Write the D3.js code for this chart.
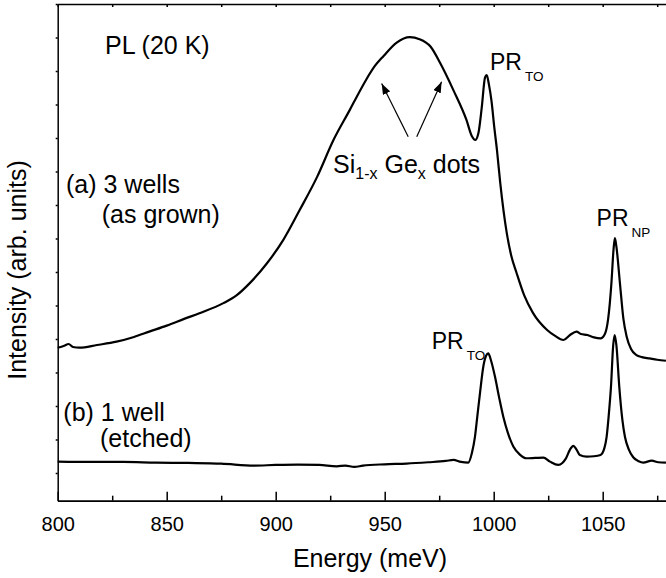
<!DOCTYPE html>
<html>
<head>
<meta charset="utf-8">
<script src="https://cdn.jsdelivr.net/npm/d3@7/dist/d3.min.js"></script>
<style>
  body { margin: 0; background: #fff; }
  svg { display: block; font-family: "Liberation Sans", Arial, Helvetica, sans-serif; }
  .axis path, .axis line { stroke: #000; stroke-width: 1.5; fill: none; }
  .axis text { font-size: 20px; fill: #000; }
  .curve { fill: none; stroke: #000; stroke-width: 2.2; stroke-linejoin: round; }
  .label { font-size: 25px; fill: #000; }
</style>
</head>
<body>
<div id="chart"></div>
<script>
// x ticks (meV)
var xMajorTicks = [800, 850, 900, 950, 1000, 1050];
var xMinorTicks = [825, 875, 925, 975, 1025, 1075];
var yTicks = [0, 1, 2, 3, 4, 5, 6, 7, 8, 9, 10, 11, 12, 13, 14];

// (a) 3 wells, as grown
var energyA = [800, 803, 805, 807, 810, 818, 827, 835, 842, 850, 858, 865, 876, 882, 888,
    896, 903.5, 911, 919, 926.5, 934, 938, 941.5, 945.5, 949.5, 955.5, 961.5, 966, 971, 975.5,
    981.5, 987.5, 990, 991.5, 993, 994.5, 996, 996.8, 997.8, 999, 1000.3, 1001.5, 1003,
    1006, 1008, 1010.5, 1014, 1018, 1024.5, 1028, 1032, 1035, 1038, 1040, 1043, 1046,
    1049, 1051, 1052.5, 1054, 1055, 1055.6, 1056.3, 1057.9, 1059.5, 1061, 1063, 1065.5,
    1068, 1071.5, 1075, 1079];
var intensityA = [3.74, 3.80, 3.85, 3.76, 3.74, 3.82, 3.92, 4.06, 4.22, 4.40, 4.60, 4.77,
    5.07, 5.30, 5.66, 6.26, 6.96, 7.85, 8.84, 9.94, 10.84, 11.33, 11.74, 12.15, 12.45, 12.85,
    13.01, 12.95, 12.73, 12.23, 11.43, 10.54, 10.05, 9.94, 10.15, 10.9, 11.8, 11.88, 11.6,
    11.1, 10.3, 9.64, 8.66, 7.16, 6.5, 5.97, 5.3, 4.78, 4.27, 4.1, 3.97, 4.12, 4.22, 4.15,
    4.12, 4.05, 4.02, 4.15, 4.6, 5.67, 6.7, 7.01, 6.75, 5.67, 4.6, 4.07, 3.7, 3.52, 3.46,
    3.42, 3.38, 3.35];

// (b) 1 well, etched
var energyB = [800, 815, 830, 845, 860, 875, 890, 900, 910, 920, 928, 932, 936, 940, 950,
    960, 970, 978, 981.5, 985, 988.3, 990, 991.4, 992.5, 993.7, 995.3, 996.5, 997.5, 998.8,
    1000.6, 1002.5, 1004.4, 1006.5, 1009, 1012, 1015, 1019, 1022.8, 1025.8, 1029.6, 1031.5,
    1033, 1035, 1036.5, 1038, 1039.5, 1042.7, 1046, 1049, 1050.8, 1051.8, 1053, 1053.8,
    1054.8, 1055.5, 1056.3, 1057.6, 1059, 1060.2, 1062, 1064, 1066.5, 1068.6, 1072.5,
    1075.5, 1079];
var intensityB = [0.34, 0.33, 0.33, 0.31, 0.30, 0.28, 0.22, 0.24, 0.25, 0.24, 0.20, 0.22,
    0.18, 0.22, 0.26, 0.28, 0.32, 0.36, 0.39, 0.33, 0.31, 0.6, 1.08, 1.7, 2.38, 3.2, 3.5,
    3.57, 3.35, 2.87, 2.25, 1.68, 1.2, 0.79, 0.55, 0.44, 0.45, 0.46, 0.34, 0.24, 0.3, 0.42,
    0.7, 0.81, 0.7, 0.54, 0.49, 0.5, 0.54, 0.75, 1.08, 1.9, 2.58, 3.8, 4.12, 3.8, 2.58, 1.6,
    1.08, 0.7, 0.47, 0.35, 0.31, 0.37, 0.32, 0.31];

var width = 666, height = 578;
var margin = {top: 4, left: 57.7, bottom: 77.3};
var plotW = 610.4, plotH = height - margin.top - margin.bottom;

var svg = d3.select('#chart').append('svg')
    .attr('width', width)
    .attr('height', height);

var defs = svg.append('defs');
defs.append('marker')
    .attr('id', 'head')
    .attr('markerUnits', 'userSpaceOnUse')
    .attr('markerWidth', 11).attr('markerHeight', 8)
    .attr('refX', 11).attr('refY', 4)
    .attr('orient', 'auto')
  .append('path')
    .attr('d', 'M0,0 L11,4 L0,8 Z')
    .attr('fill', '#000');

var g = svg.append('g').attr('transform', translation(margin.left, margin.top));

var x = d3.scaleLinear().domain([800, 1080]).range([0, plotW]);
var y = d3.scaleLinear().domain([-0.827, 14]).range([plotH, 0]);

// axes
g.append('g').attr('class', 'axis')
    .attr('transform', translation(0, plotH))
    .call(d3.axisBottom(x).tickValues(xMinorTicks).tickSize(-5).tickSizeOuter(0).tickFormat(''));
var bottom = g.append('g').attr('class', 'axis')
    .attr('transform', translation(0, plotH))
    .call(d3.axisBottom(x).tickValues(xMajorTicks).tickSize(-9).tickSizeOuter(0).tickFormat(d3.format('d')));
bottom.selectAll('text').attr('y', 30).attr('dy', null);

g.append('g').attr('class', 'axis')
    .call(d3.axisTop(x).tickValues(xMajorTicks.concat(xMinorTicks)).tickSize(-3).tickSizeOuter(0).tickFormat(''));

g.append('g').attr('class', 'axis')
    .call(d3.axisLeft(y).tickValues(yTicks).tickSize(2).tickSizeOuter(0).tickFormat(''));

// curves
var line = d3.line()
    .x(function(d) { return x(d[0]); })
    .y(function(d) { return y(d[1]); })
    .curve(d3.curveMonotoneX);

g.append('path').attr('class', 'curve')
    .attr('d', line(d3.zip(energyA, intensityA)));
g.append('path').attr('class', 'curve')
    .attr('d', line(d3.zip(energyB, intensityB)));

// arrows to the dot band
[[960.8, 10.04, 948.6, 11.63], [964.7, 10.04, 976.1, 11.68]].forEach(function(a) {
    g.append('line')
        .attr('x1', x(a[0])).attr('y1', y(a[1]))
        .attr('x2', x(a[2])).attr('y2', y(a[3]))
        .attr('stroke', '#000').attr('stroke-width', 1.2)
        .attr('marker-end', 'url(#head)');
});

// labels
function label(e, v, txt) {
    return g.append('text').attr('class', 'label')
        .attr('x', x(e)).attr('y', y(v)).text(txt);
}
label(821.7, 12.51, 'PL (20 K)');
label(803.8, 8.35, '(a) 3 wells');
label(820.2, 7.46, '(as grown)');
label(802.6, 1.55, '(b) 1 well');
label(819.4, 0.78, '(etched)');

function peakLabel(e, v, sub) {
    var t = g.append('text').attr('class', 'label')
        .attr('x', x(e)).attr('y', y(v)).style('font-size', '23px');
    t.append('tspan').text('PR');
    t.append('tspan').attr('dx', 3).attr('dy', 11).style('font-size', '13.5px').text(sub);
}
peakLabel(998.3, 12.03, 'TO');
peakLabel(1047.2, 7.37, 'NP');
peakLabel(971.6, 3.69, 'TO');

var si = g.append('text').attr('class', 'label')
    .attr('x', x(926.3)).attr('y', y(8.95));
si.append('tspan').text('Si');
si.append('tspan').attr('dy', 6).style('font-size', '16px').text('1-x');
si.append('tspan').attr('dy', -6).text(' Ge');
si.append('tspan').attr('dy', 6).style('font-size', '16px').text('x');
si.append('tspan').attr('dy', -6).text(' dots');

// axis titles
svg.append('text').attr('class', 'label')
    .attr('x', 370).attr('y', 567)
    .attr('text-anchor', 'middle')
    .text('Energy (meV)');
svg.append('text').attr('class', 'label')
    .attr('transform', translation(26, 270) + ' rotate(-90)')
    .attr('text-anchor', 'middle')
    .text('Intensity (arb. units)');

function translation(a, b) {
    return 'translate(' + a + ',' + b + ')';
}
</script>
</body>
</html>
